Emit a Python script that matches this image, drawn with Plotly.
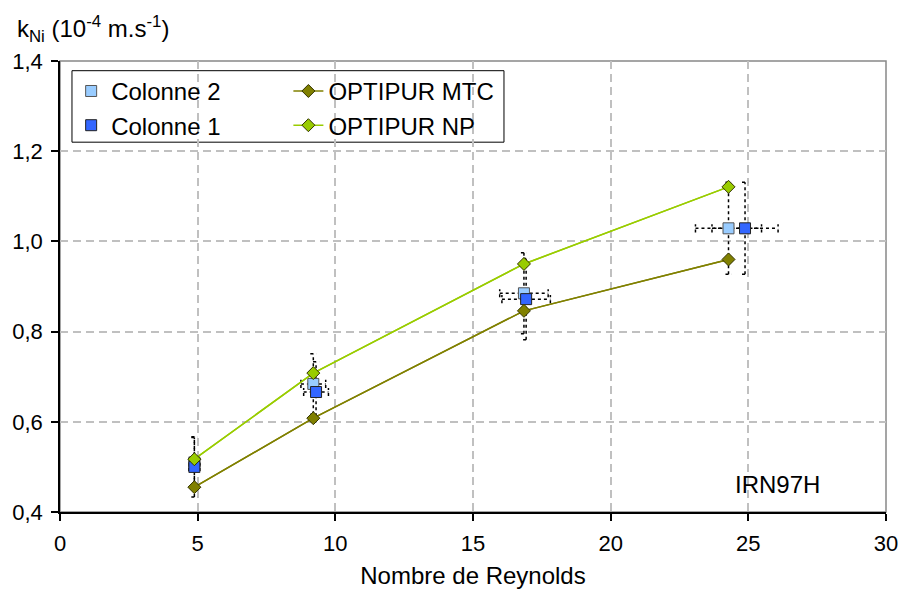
import plotly.graph_objects as go

# values
reynolds_col2 = [4.88, 9.20, 16.85, 24.28]
k_col2 = [0.510, 0.684, 0.885, 1.029]
reynolds_col1 = [4.88, 9.30, 16.93, 24.88]
k_col1 = [0.500, 0.666, 0.872, 1.029]

# experimental uncertainty (half widths)
err_re = [0.2, 0.45, 0.88, 1.2]
err_k_col2 = [0.055, 0.067, 0.09, 0.102]
err_k_col1 = [0.067, 0.067, 0.09, 0.102]

reynolds_model = [4.88, 9.20, 16.85, 24.28]
k_mtc = [0.455, 0.608, 0.846, 0.960]
k_np = [0.517, 0.708, 0.950, 1.121]

x_ticks = [0, 5, 10, 15, 20, 25, 30]
y_ticks = [0.4, 0.6, 0.8, 1.0, 1.2, 1.4]

FONT = "Liberation Sans, Arial, sans-serif"


def dotted_errors(xs, ys, ex, ey, cap_x=0.11, cap_y=0.009):
    """Cross-shaped dotted error bars with small caps, as one line trace."""
    bx, by = [], []
    for x, y, dx, dy in zip(xs, ys, ex, ey):
        bx += [x, x, None, x - dx, x + dx, None]
        by += [y - dy, y + dy, None, y, y, None]
        for yy in (y - dy, y + dy):
            bx += [x - cap_x, x + cap_x, None]
            by += [yy, yy, None]
        for xx in (x - dx, x + dx):
            bx += [xx, xx, None]
            by += [y - cap_y, y + cap_y, None]
    return go.Scatter(
        x=bx, y=by, mode="lines",
        line=dict(color="black", width=1.5, dash="dot"),
        showlegend=False, hoverinfo="skip",
    )


fig = go.Figure()

fig.add_trace(go.Scatter(
    x=reynolds_model, y=k_mtc, mode="lines", line=dict(color="#808000", width=1.5),
    showlegend=False, hoverinfo="skip",
))
fig.add_trace(go.Scatter(
    x=reynolds_model, y=k_np, mode="lines", line=dict(color="#99CC00", width=1.5),
    showlegend=False, hoverinfo="skip",
))

fig.add_trace(dotted_errors(reynolds_col2, k_col2, err_re, err_k_col2))
fig.add_trace(dotted_errors(reynolds_col1, k_col1, err_re, err_k_col1))

fig.add_trace(go.Scatter(
    x=reynolds_col2, y=k_col2, mode="markers", name="Colonne 2",
    marker=dict(symbol="square", size=11, color="#99CCFF", line=dict(color="#555555", width=1)),
    legend="legend", legendgroup="c2",
))
fig.add_trace(go.Scatter(
    x=reynolds_col1, y=k_col1, mode="markers", name="Colonne 1",
    marker=dict(symbol="square", size=11, color="#3366FF", line=dict(color="#222222", width=1)),
    legend="legend", legendgroup="c1",
))
fig.add_trace(go.Scatter(
    x=reynolds_model, y=k_mtc, mode="lines+markers", name="OPTIPUR MTC",
    line=dict(color="#808000", width=1.5),
    marker=dict(symbol="diamond", size=10, color="#808000", line=dict(color="#333300", width=1)),
    legend="legend2", legendgroup="mtc",
))
fig.add_trace(go.Scatter(
    x=reynolds_model, y=k_np, mode="lines+markers", name="OPTIPUR NP",
    line=dict(color="#99CC00", width=1.5),
    marker=dict(symbol="diamond", size=10, color="#99CC00", line=dict(color="#333300", width=1)),
    legend="legend2", legendgroup="np",
))

legend_style = dict(
    yanchor="top", xanchor="left", y=0.9825,
    bgcolor="rgba(0,0,0,0)", borderwidth=0,
    font=dict(family=FONT, size=24, color="black"),
    traceorder="grouped", tracegroupgap=0,
)

fig.update_layout(
    width=900, height=589,
    margin=dict(l=60, r=14, t=61, b=77),
    paper_bgcolor="white", plot_bgcolor="white",
    font=dict(family=FONT, size=22, color="black"),
    separators=", ",
    showlegend=True,
    legend=dict(x=0.0135, **legend_style),
    legend2=dict(x=0.2765, **legend_style),
    shapes=[
        # plot area frame
        dict(type="rect", xref="paper", yref="paper", x0=0, x1=1, y0=0, y1=1,
             line=dict(color="#888888", width=1.5), layer="between"),
        # legend box
        dict(type="rect", xref="paper", yref="paper", x0=0.0145, x1=0.5375, y0=0.820, y1=0.9785,
             line=dict(color="black", width=1), fillcolor="white", layer="between"),
    ],
    annotations=[
        dict(text="k<sub>Ni</sub> (10<sup>-4</sup> m.s<sup>-1</sup>)",
             xref="paper", yref="paper", x=-0.0545, y=1.072, xanchor="left", yanchor="middle",
             showarrow=False, font=dict(size=24)),
        dict(text="IRN97H", x=26.06, y=0.46, xanchor="center", yanchor="middle",
             showarrow=False, font=dict(size=24)),
    ],
)

fig.update_xaxes(
    range=[0, 30], tickvals=x_ticks, automargin=False,
    showline=True, linecolor="black", linewidth=1.5,
    ticks="outside", ticklen=7, tickcolor="black", tickwidth=1.5,
    ticklabelstandoff=4,
    showgrid=True, gridcolor="#c0c0c0", gridwidth=1.5, griddash="8px,5px",
    zeroline=False,
    title=dict(text="Nombre de Reynolds", font=dict(size=24), standoff=18),
)
fig.update_yaxes(
    range=[0.4, 1.4], tickvals=y_ticks, tickformat=".1f", automargin=False,
    showline=True, linecolor="black", linewidth=1.5,
    ticks="outside", ticklen=7, tickcolor="black", tickwidth=1.5,
    ticklabelstandoff=4,
    showgrid=True, gridcolor="#c0c0c0", gridwidth=1.5, griddash="8px,5px",
    zeroline=False,
)

# drop the default page margin so the 900x589 figure fills the window exactly
fig.write_html(
    "out.html",
    config={"displayModeBar": False},
    post_script="document.body.style.margin='0';document.body.style.overflow='hidden';",
)
